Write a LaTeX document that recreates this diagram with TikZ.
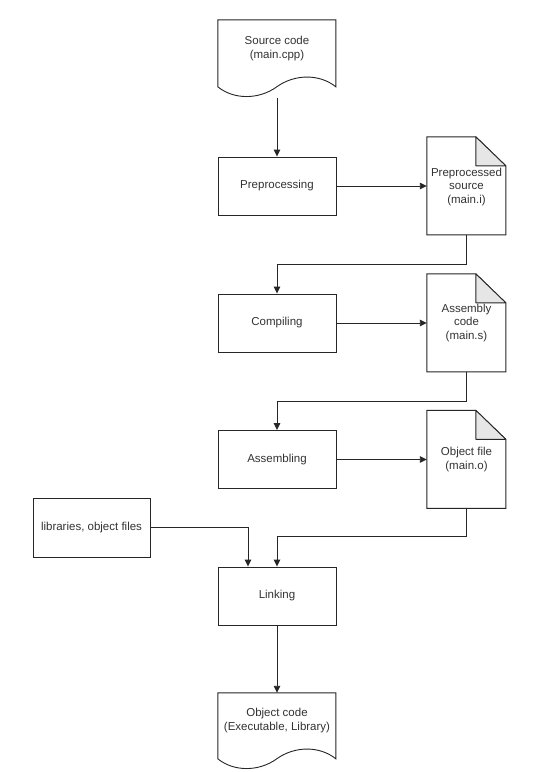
\documentclass[tikz,border=0pt]{standalone}
\usepackage{fontspec}
\setmainfont{Liberation Sans}
\usetikzlibrary{arrows.meta,positioning,calc}
\definecolor{txtc}{HTML}{333333}
\definecolor{linec}{HTML}{262626}
\definecolor{foldc}{HTML}{E6E6E6}
\tikzset{
  procbox/.style={draw=linec, line width=0.9pt, minimum width=118pt, minimum height=58pt, inner sep=0pt, font=\fontsize{11.5}{13.5}\selectfont, text=txtc, align=center},
  wavebb/.style={minimum width=118pt, minimum height=78pt, inner sep=0pt},
  foldbb/.style={minimum width=79pt, minimum height=98pt, inner sep=0pt, font=\fontsize{11.5}{13.5}\selectfont, text=txtc, align=center},
  lbl/.style={font=\fontsize{11.5}{13.5}\selectfont, text=txtc, align=center, inner sep=0pt},
  outl/.style={draw=linec, line width=0.9pt, fill=white},
  conn/.style={draw=linec, line width=0.9pt, -{Triangle[length=7pt,width=6.5pt]}},
}
\begin{document}
\begin{tikzpicture}[x=1pt,y=-1pt]
\useasboundingbox (0,0) rectangle (555,772);
\fill[white] (0,0) rectangle (555,772);

% wave document: source
\node[wavebb] (src) at (277,59) {};
\begin{scope}[shift={(src.north west)}]
  \path[outl] (0,0) -- (118,0) -- (118,67) .. controls (102,54) and (77,54) .. (59,67) .. controls (41,80) and (16,80) .. (0,67) -- cycle;
\end{scope}
\node[lbl] (srct) at (277,48.5) {Source code\\(main.cpp)};

% process boxes
\node[procbox] (pre) at (277,186) {Preprocessing};
\node[procbox] (comp) at (277,323) {Compiling};
\node[procbox] (asmb) at (277,459.5) {Assembling};
\node[procbox] (link) at (277,596) {Linking};
\node[procbox, minimum width=117pt, minimum height=59pt] (lib) at (91.5,527.5) {libraries, object files};

% fold documents
\newcommand\folddoc[1]{%
  \begin{scope}[shift={(#1.north west)}]
    \path[outl] (0,0) -- (49,0) -- (79,29) -- (79,98) -- (0,98) -- cycle;
    \path[draw=linec, line width=0.9pt, fill=foldc, line join=round] (49,0) -- (49,29) -- (79,29) -- cycle;
  \end{scope}}
\node[foldbb] (ppd) at (466.5,186) {};
\folddoc{ppd}
\node[lbl] (ppdt) at (466.5,187) {Preprocessed\\source\\(main.i)};
\node[foldbb] (asm) at (466.5,323) {};
\folddoc{asm}
\node[lbl] (asmt) at (466.5,323) {Assembly\\code\\(main.s)};
\node[foldbb] (obj) at (466.5,459.5) {};
\folddoc{obj}
\node[lbl] (objt) at (466.5,459.5) {Object file\\(main.o)};

% wave document: object code
\node[wavebb] (out) at (277,732) {};
\begin{scope}[shift={(out.north west)}]
  \path[outl] (0,0) -- (118,0) -- (118,66) .. controls (102,53) and (77,53) .. (59,66) .. controls (41,79) and (16,79) .. (0,66) -- cycle;
\end{scope}
\node[lbl] (outt) at (277,720.5) {Object code\\(Executable, Library)};

% connectors
\draw[conn] (src.south) -- (pre.north);
\draw[conn] (pre.east) -- (ppd.west);
\draw[conn] (ppd.south) -- ++(0,29) -| (comp.north);
\draw[conn] (comp.east) -- (asm.west);
\draw[conn] (asm.south) -- ++(0,29) -| (asmb.north);
\draw[conn] (asmb.east) -- (obj.west);
\draw[conn] (obj.south) -- ++(0,28) -| (link.north);
\draw[conn] (lib.east) -| ([xshift=-29pt]link.north);
\draw[conn] (link.south) -- (out.north);
\end{tikzpicture}
\end{document}
